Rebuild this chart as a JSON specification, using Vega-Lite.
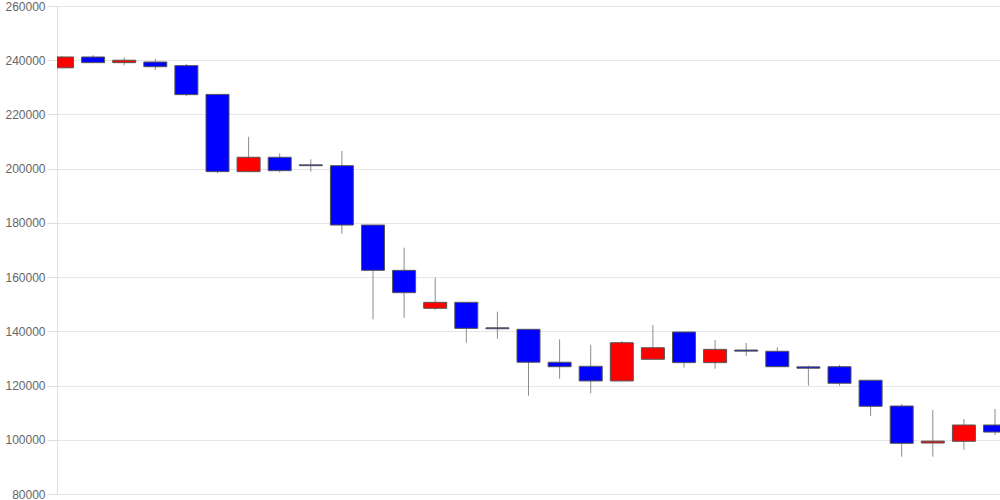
{
  "$schema": "https://vega.github.io/schema/vega-lite/v6.json",
  "width": 943,
  "height": 488,
  "autosize": {"type": "none"},
  "padding": {"left": 57, "top": 6, "right": 0, "bottom": 6},
  "background": "#ffffff",
  "config": {
    "view": {"stroke": null},
    "axis": {
      "labelFont": "Liberation Sans",
      "labelFontSize": 12,
      "labelColor": "#666666",
      "gridColor": "#e6e6e6",
      "gridWidth": 1,
      "domainColor": "#dddddd",
      "tickColor": "#dddddd",
      "tickSize": 10,
      "labelPadding": 2
    }
  },
  "data": {
    "values": [
      {"i": 0, "open": 237200, "close": 241200, "high": 241500, "low": 237000},
      {"i": 1, "open": 241200, "close": 239100, "high": 241900, "low": 239000},
      {"i": 2, "open": 239100, "close": 240000, "high": 241100, "low": 238100},
      {"i": 3, "open": 239350, "close": 237600, "high": 240450, "low": 236400},
      {"i": 4, "open": 238000, "close": 227300, "high": 238600, "low": 226700},
      {"i": 5, "open": 227400, "close": 198900, "high": 227400, "low": 198300},
      {"i": 6, "open": 198900, "close": 204200, "high": 211800, "low": 198900},
      {"i": 7, "open": 204200, "close": 199250, "high": 205700, "low": 198650},
      {"i": 8, "open": 201400, "close": 201100, "high": 203450, "low": 198900},
      {"i": 9, "open": 201100, "close": 179200, "high": 206500, "low": 176000},
      {"i": 10, "open": 179200, "close": 162500, "high": 179200, "low": 144400},
      {"i": 11, "open": 162500, "close": 154250, "high": 170850, "low": 145000},
      {"i": 12, "open": 148500, "close": 150700, "high": 159800, "low": 147900},
      {"i": 13, "open": 150700, "close": 141100, "high": 150700, "low": 135800},
      {"i": 14, "open": 141300, "close": 140950, "high": 147250, "low": 137300},
      {"i": 15, "open": 140750, "close": 128600, "high": 140750, "low": 116250},
      {"i": 16, "open": 128600, "close": 126950, "high": 137050, "low": 122550},
      {"i": 17, "open": 127100, "close": 121700, "high": 135050, "low": 117150},
      {"i": 18, "open": 121700, "close": 135800, "high": 136400, "low": 121700},
      {"i": 19, "open": 129700, "close": 133950, "high": 142350, "low": 129700},
      {"i": 20, "open": 139750, "close": 128450, "high": 139750, "low": 126600},
      {"i": 21, "open": 128450, "close": 133350, "high": 136800, "low": 126200},
      {"i": 22, "open": 133100, "close": 132700, "high": 135700, "low": 130900},
      {"i": 23, "open": 132650, "close": 126950, "high": 134100, "low": 126950},
      {"i": 24, "open": 126900, "close": 126400, "high": 127350, "low": 119950},
      {"i": 25, "open": 126950, "close": 120850, "high": 127600, "low": 119950},
      {"i": 26, "open": 121950, "close": 112350, "high": 121950, "low": 108800},
      {"i": 27, "open": 112450, "close": 98700, "high": 113200, "low": 93750},
      {"i": 28, "open": 98800, "close": 99500, "high": 111000, "low": 93750},
      {"i": 29, "open": 99450, "close": 105450, "high": 107650, "low": 96350},
      {"i": 30, "open": 105450, "close": 102850, "high": 111350, "low": 101800}
    ]
  },
  "encoding": {
    "x": {
      "field": "i",
      "type": "quantitative",
      "scale": {"domain": [0, 30], "nice": false, "zero": false},
      "axis": null
    }
  },
  "layer": [
    {
      "mark": {"type": "rule", "color": "#8c8c8c", "strokeWidth": 1, "clip": true},
      "encoding": {
        "y": {
          "field": "low",
          "type": "quantitative",
          "scale": {"domain": [80000, 260000], "nice": false, "zero": false},
          "axis": {"title": null, "values": [80000, 100000, 120000, 140000, 160000, 180000, 200000, 220000, 240000, 260000], "format": "d"}
        },
        "y2": {"field": "high"}
      }
    },
    {
      "mark": {"type": "bar", "width": 23, "clip": true, "stroke": "#555555", "strokeWidth": 1},
      "encoding": {
        "y": {"field": "open", "type": "quantitative"},
        "y2": {"field": "close"},
        "color": {
          "condition": {"test": "datum.close > datum.open", "value": "#ff0000"},
          "value": "#0000ff"
        }
      }
    }
  ]
}
